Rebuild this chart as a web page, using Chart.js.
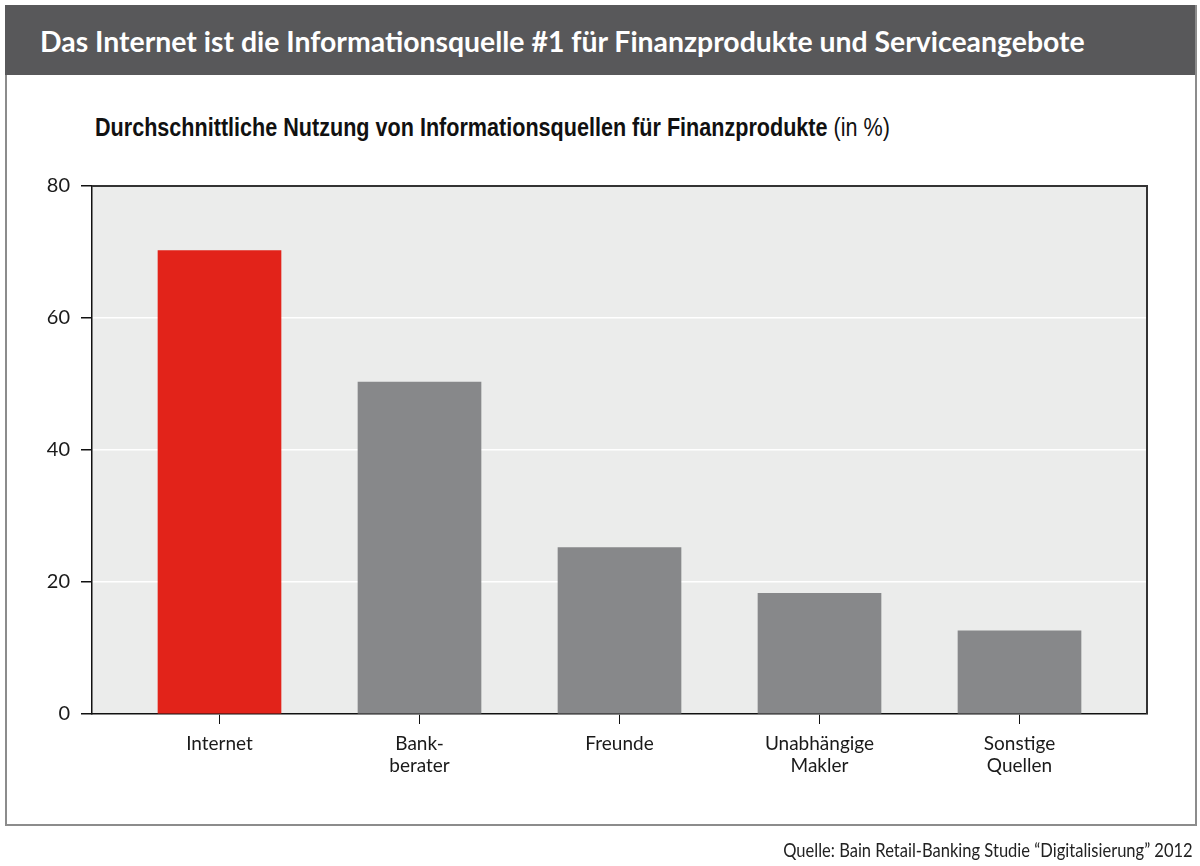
<!DOCTYPE html>
<html>
<head>
<meta charset="utf-8">
<script src="https://cdn.jsdelivr.net/npm/chart.js@4"></script>
<style>
  body { margin: 0; background: #fff; font-family: Lato, "Open Sans", sans-serif; }
  #page { position: relative; width: 1200px; height: 866px; overflow: hidden; }
  #frame { position: absolute; left: 5px; top: 5px; width: 1188px; height: 819px; border: 2px solid #8c8c8c; border-top: none; }
  #header { position: absolute; left: 5px; top: 5px; width: 1190px; height: 70px; background: #58585a; }
  #title { position: absolute; left: 40px; top: 24px; color: #fff; font-weight: 700; font-size: 28.4px; white-space: nowrap; }
  #subtitle { position: absolute; left: 95px; top: 112px; color: #111; font-family: "Liberation Sans Narrow", sans-serif; font-size: 26px; white-space: nowrap; transform: scaleX(0.83); transform-origin: left top; }
  #subtitle b { font-weight: 700; }
  #subtitle span { font-weight: 400; }
  #source { position: absolute; right: 7px; top: 838px; color: #222; font-size: 19px; white-space: nowrap; transform: scaleX(0.87); transform-origin: right top; }
  #chartBox { position: absolute; left: 0; top: 0; width: 1200px; height: 866px; }
</style>
</head>
<body>
<div id="page">
  <div id="frame"></div>
  <div id="header"></div>
  <div id="title">Das Internet ist die Informationsquelle #1 für Finanzprodukte und Serviceangebote</div>
  <div id="subtitle"><b>Durchschnittliche Nutzung von Informationsquellen für Finanzprodukte</b> <span>(in %)</span></div>
  <div id="chartBox"><canvas id="usageChart"></canvas></div>
  <div id="source">Quelle: Bain Retail-Banking Studie “Digitalisierung” 2012</div>
</div>
<script>
const categories = ['Internet', ['Bank-', 'berater'], 'Freunde', ['Unabhängige', 'Makler'], ['Sonstige', 'Quellen']];
const usageValues = [70.2, 50.3, 25.2, 18.3, 12.6];
const barColors = ['#e2231a', '#87888a', '#87888a', '#87888a', '#87888a'];
const yTicks = [0, 20, 40, 60, 80];

document.addEventListener('DOMContentLoaded', function() {
    const canvas = document.getElementById('usageChart');
    const ctx = canvas.getContext('2d');

    // plot background and the dark top/right frame
    const plotFrame = {
        id: 'plotFrame',
        beforeDraw(chart) {
            const a = chart.chartArea;
            const c = chart.ctx;
            c.save();
            c.fillStyle = '#ebeceb';
            c.fillRect(a.left, a.top, a.right - a.left, a.bottom - a.top);
            c.restore();
        },
        afterDraw(chart) {
            const a = chart.chartArea;
            const c = chart.ctx;
            c.save();
            c.strokeStyle = '#333';
            c.lineWidth = 2;
            c.beginPath();
            c.moveTo(a.left, a.top);
            c.lineTo(a.right, a.top);
            c.lineTo(a.right, a.bottom);
            c.stroke();
            c.restore();
        }
    };

    new Chart(ctx, {
        type: 'bar',
        data: {
            datasets: [{
                data: usageValues.map((v, i) => ({ x: i, y: v })),
                backgroundColor: barColors,
                barThickness: 123
            }]
        },
        options: {
            responsive: true,
            maintainAspectRatio: false,
            animation: false,
            layout: { padding: { top: 186, right: 53, left: 0, bottom: 0 } },
            plugins: { legend: { display: false }, tooltip: { enabled: false } },
            scales: {
                x: {
                    type: 'linear',
                    offset: false,
                    min: -0.6375,
                    max: 4.6375,
                    afterBuildTicks: (scale) => { scale.ticks = categories.map((c, i) => ({ value: i })); },
                    afterFit: (scale) => { scale.height = 152; },
                    grid: { drawOnChartArea: false, offset: false, tickColor: '#111', tickLength: 10 },
                    border: { color: '#111', width: 1.5 },
                    ticks: {
                        autoSkip: false,
                        maxRotation: 0,
                        padding: 8,
                        color: '#1a1a1a',
                        font: { family: 'Lato', size: 19 },
                        callback: (v) => categories[v]
                    }
                },
                y: {
                    min: 0,
                    max: 80,
                    afterBuildTicks: (scale) => { scale.ticks = yTicks.map(v => ({ value: v })); },
                    afterFit: (scale) => { scale.width = 92; },
                    grid: { color: '#ffffff', lineWidth: 1.5, tickColor: '#111', tickLength: 11 },
                    border: { color: '#111', width: 1.5 },
                    ticks: {
                        padding: 11,
                        color: '#1a1a1a',
                        font: { family: 'Lato', size: 20 }
                    }
                }
            }
        },
        plugins: [plotFrame]
    });
});
</script>
</body>
</html>
